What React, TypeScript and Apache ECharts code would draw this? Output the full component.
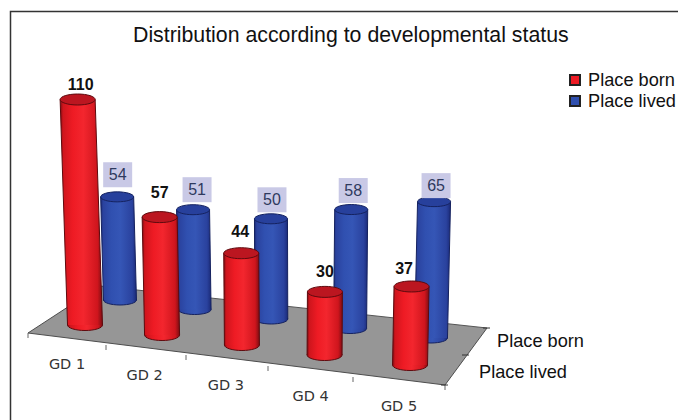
import React, { useEffect, useRef } from "react";
import * as echarts from "echarts";

const CATEGORIES = ["GD 1", "GD 2", "GD 3", "GD 4", "GD 5"];
const PLACE_BORN = [110, 57, 44, 30, 37];
const PLACE_LIVED = [54, 51, 50, 58, 65];
const DEPTH_LABELS = ["Place born", "Place lived"];

const FONT = '"Liberation Sans", Arial, sans-serif';
const VALUE_MAX = 110;

// Floor of the pseudo-3D scene.
const FLOOR = [[28, 333], [100, 286], [487, 328], [445, 385]];
const FRONT_TICKS = [[28, 333], [106, 345], [186, 355], [268, 366], [353, 377], [445, 385]];
const SIDE_TICKS = [[445, 385], [466, 355], [487, 328]];

// A row of cylinders: the floor slopes downwards per category, spacing widens
// towards the viewer and nearer columns stretch a little.
type Row = {
  grid: number;
  floorDrop: number;
  bow: number;
  stretch: number;
  rx: number;
  ry: number;
  edge: string;
  side: string;
  mid: string;
  bright: string;
  cap: string;
  rim: string;
  labelNudge: number[][];
  boxed: boolean;
};

const BORN_ROW: Row = {
  grid: 0, floorDrop: 10, bow: 1.4, stretch: 0.0088, rx: 17.5, ry: 5.5,
  edge: "#7c0d12", side: "#cf151d", mid: "#ee1b24", bright: "#f3262e", cap: "#bb1620", rim: "#5e0a0e",
  labelNudge: [[3, -15], [0, -25], [-1, -22], [0, -20], [-7.5, -18]],
  boxed: false,
};
const LIVED_ROW: Row = {
  grid: 1, floorDrop: 9.5, bow: 1.05, stretch: 0.0246, rx: 16.5, ry: 5,
  edge: "#1b2a78", side: "#2a429e", mid: "#3050b0", bright: "#3556b6", cap: "#27409c", rim: "#15225f",
  labelNudge: [[0.5, -22], [4, -20], [1, -19], [2, -19], [2, -16]],
  boxed: true,
};

// Vanishing column: tops lean away from this x the taller they are.
const VANISH_X = 290;
const LEAN = 0.00016;
const LAST_INDEX = CATEGORIES.length - 1;

function cylinder(row: Row) {
  return (params: any, api: any) => {
    const i = api.value(0);
    const v = api.value(1);
    const zero = api.coord([i, 0]);
    const peak = api.coord([i, v]);
    const drop = row.floorDrop * i;
    const h = (zero[1] - peak[1]) * (1 + row.stretch * i);
    const bx = zero[0] - row.bow * i * (LAST_INDEX - i);
    const by = zero[1] + drop;
    const tx = bx + (bx - VANISH_X) * LEAN * h;
    const ty = by - h;
    const { rx, ry } = row;
    const body = {
      type: "linear", x: 0, y: 0, x2: 1, y2: 0,
      colorStops: [
        { offset: 0, color: row.edge },
        { offset: 0.07, color: row.side },
        { offset: 0.3, color: row.mid },
        { offset: 0.55, color: row.bright },
        { offset: 0.88, color: row.side },
        { offset: 1, color: row.edge },
      ],
    };
    const [nx, ny] = row.labelNudge[i];
    const lx = tx + nx;
    const ly = ty + ny;
    const label: any[] = [];
    if (row.boxed) {
      label.push({ type: "rect", shape: { x: lx - 14.5, y: ly - 12.5, width: 29, height: 25 }, style: { fill: "#c9c9e6" } });
    }
    label.push({
      type: "text",
      style: {
        text: String(v), x: lx, y: ly, align: "center", verticalAlign: "middle",
        fill: row.boxed ? "#2f3a5e" : "#111111",
        font: `${row.boxed ? "normal" : "bold"} 16px ${FONT}`,
      },
    });
    return {
      type: "group",
      children: [
        { type: "ellipse", shape: { cx: bx, cy: by, rx, ry }, style: { fill: body, stroke: row.rim, lineWidth: 1 } },
        { type: "polygon", shape: { points: [[tx - rx, ty], [tx + rx, ty], [bx + rx, by], [bx - rx, by]] }, style: { fill: body } },
        { type: "line", shape: { x1: tx - rx, y1: ty, x2: bx - rx, y2: by }, style: { stroke: row.rim, lineWidth: 1 } },
        { type: "line", shape: { x1: tx + rx, y1: ty, x2: bx + rx, y2: by }, style: { stroke: row.rim, lineWidth: 1 } },
        { type: "ellipse", shape: { cx: tx, cy: ty, rx, ry }, style: { fill: row.cap, stroke: row.rim, lineWidth: 1 } },
        ...label,
      ],
    };
  };
}

function option() {
  const rowAxis = (gridIndex: number) => ({ type: "category", gridIndex, data: CATEGORIES, show: false });
  const valueAxis = (gridIndex: number) => ({ type: "value", gridIndex, min: 0, max: VALUE_MAX, show: false });
  const tickLines = [
    ...FRONT_TICKS.map(([x, y]) => ({ type: "line", shape: { x1: x, y1: y, x2: x, y2: y + 5 }, style: { stroke: "#666666", lineWidth: 1 } })),
    ...SIDE_TICKS.map(([x, y]) => ({ type: "line", shape: { x1: x - 4, y1: y, x2: x + 3, y2: y }, style: { stroke: "#333333", lineWidth: 1 } })),
  ];
  return {
    animation: false,
    backgroundColor: "#ffffff",
    title: {
      text: "Distribution according to developmental status",
      left: 133, top: 24, padding: 0,
      textStyle: { fontFamily: FONT, fontSize: 21.3, fontWeight: "normal", color: "#111111" },
    },
    legend: {
      data: DEPTH_LABELS,
      orient: "vertical", left: 569, top: 71, padding: 0,
      itemWidth: 10, itemHeight: 10, itemGap: 3, icon: "rect",
      textStyle: { fontFamily: FONT, fontSize: 18.2, color: "#111111", padding: [0, 0, 0, 3] },
    },
    grid: [
      { left: 44.4, width: 406.25, top: 99.5, height: 225.5 },
      { left: 81.1, width: 388.75, top: 89.9, height: 210.1 },
    ],
    xAxis: [rowAxis(0), rowAxis(1)],
    yAxis: [valueAxis(0), valueAxis(1)],
    graphic: [
      { type: "rect", shape: { x: 10.5, y: 11.5, width: 720, height: 460 }, style: { fill: "transparent", stroke: "#333333", lineWidth: 1.5 }, z: 1 },
      { type: "polygon", shape: { points: FLOOR }, style: { fill: "#969696" }, z: 1 },
      { type: "polyline", shape: { points: [FLOOR[1], FLOOR[0], FLOOR[3], FLOOR[2]] }, style: { stroke: "#4d4d4d", lineWidth: 1, fill: "none" }, z: 1 },
      { type: "line", shape: { x1: FLOOR[1][0], y1: FLOOR[1][1], x2: FLOOR[2][0], y2: FLOOR[2][1] }, style: { stroke: "#555555", lineWidth: 1 }, z: 1 },
      ...tickLines.map((t) => ({ ...t, z: 1 })),
      ...CATEGORIES.map((name, i) => ({
        type: "text", z: 1,
        style: {
          text: name, x: 67 + 83 * i - 1.8 * i * (LAST_INDEX - i), y: 364 + 10.5 * i, align: "center", verticalAlign: "middle",
          fill: "#333333", font: '14.5px "DejaVu Sans", sans-serif',
        },
      })),
      { type: "text", z: 1, style: { text: DEPTH_LABELS[0], x: 497, y: 341, verticalAlign: "middle", fill: "#111111", font: `18.2px ${FONT}` } },
      { type: "text", z: 1, style: { text: DEPTH_LABELS[1], x: 479, y: 372, verticalAlign: "middle", fill: "#111111", font: `18.2px ${FONT}` } },
    ],
    series: [
      {
        type: "custom", name: DEPTH_LABELS[1], xAxisIndex: 1, yAxisIndex: 1,
        coordinateSystem: "cartesian2d",
        itemStyle: { color: "#2f4fae", borderColor: "#222222", borderWidth: 1 },
        data: PLACE_LIVED.map((v, i) => [i, v]),
        encode: { x: 0, y: 1 },
        renderItem: cylinder(LIVED_ROW),
      },
      {
        type: "custom", name: DEPTH_LABELS[0], xAxisIndex: 0, yAxisIndex: 0,
        coordinateSystem: "cartesian2d",
        itemStyle: { color: "#ee1b24", borderColor: "#222222", borderWidth: 1 },
        data: PLACE_BORN.map((v, i) => [i, v]),
        encode: { x: 0, y: 1 },
        renderItem: cylinder(BORN_ROW),
      },
    ],
  };
}

export default function App() {
  const ref = useRef<HTMLDivElement>(null);
  useEffect(() => {
    const chart = echarts.init(ref.current!, null, { renderer: "svg" });
    chart.setOption(option() as any);
    return () => chart.dispose();
  }, []);
  return <div ref={ref} style={{ position: "fixed", left: 0, top: 0, width: 678, height: 420 }} />;
}
